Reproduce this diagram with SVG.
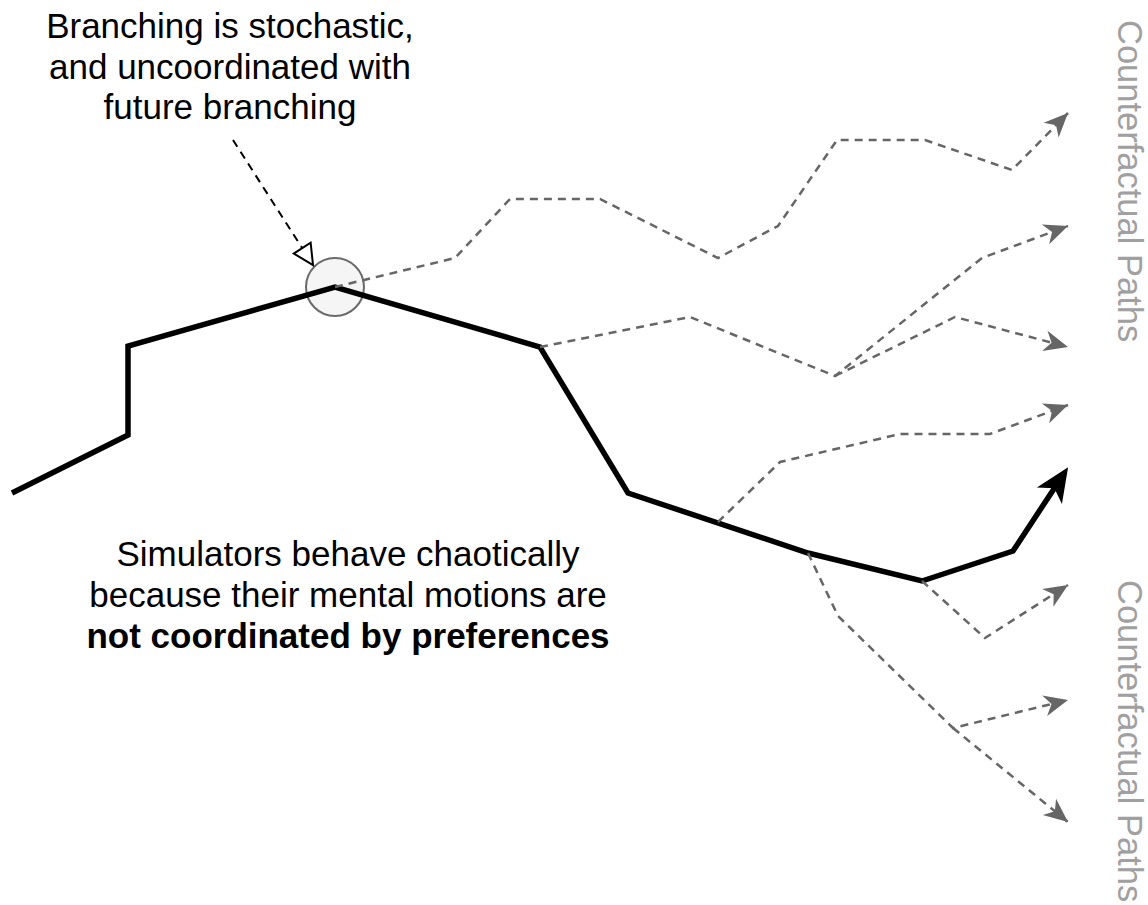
<svg xmlns="http://www.w3.org/2000/svg" width="1148" height="905" viewBox="0 0 1148 905">
  <style>
    .label { font-family: "Liberation Sans", Arial, sans-serif; font-size: 35px; fill: #000; text-anchor: middle; }
    .bold { font-weight: bold; }
    .side { font-family: "Liberation Sans", Arial, sans-serif; font-size: 34.5px; fill: #a0a0a0; }
    .main { fill: none; stroke: #000; stroke-width: 5.5; stroke-linejoin: miter; }
    .alt { fill: none; stroke: #666; stroke-width: 2.5; stroke-dasharray: 8 6; }
    .alt-arrow { marker-end: url(#grayHead); }
    .pointer { fill: none; stroke: #000; stroke-width: 2; stroke-dasharray: 8 6; marker-end: url(#openHead); }
  </style>
  <defs>
    <marker id="grayHead" markerUnits="userSpaceOnUse" viewBox="-27 -13 30 26" markerWidth="30" markerHeight="26" refX="0" refY="0" orient="auto">
      <path d="M0,0 L-24,-10.5 L-17,0 L-24,10.5 Z" fill="#666"/>
    </marker>
    <marker id="blackHead" markerUnits="userSpaceOnUse" viewBox="-14 -17 38 34" markerWidth="38" markerHeight="34" refX="0" refY="0" orient="auto">
      <path d="M22,0 L-12,-15 L-3,0 L-12,15 Z" fill="#000"/>
    </marker>
    <marker id="openHead" markerUnits="userSpaceOnUse" viewBox="-23 -13 26 26" markerWidth="26" markerHeight="26" refX="0" refY="0" orient="auto">
      <path d="M0,0 L-20,-10 L-20,10 Z" fill="#fff" stroke="#000" stroke-width="2" stroke-linejoin="miter"/>
    </marker>
  </defs>

  <!-- branching point -->
  <g id="branch-point">
    <circle cx="335" cy="287" r="29" fill="#f5f5f5" stroke="#6a6a6a" stroke-width="2"/>
  </g>

  <g id="connectors">
    <!-- realised trajectory -->
    <path id="actual-path" class="main" d="M12,493 L128,435 L128,346 L335,287 L540,347 L628,493 L808,553 L922,581 L1013,551 L1056,485.7" marker-end="url(#blackHead)"/>

    <!-- counterfactual branches -->
    <path class="alt alt-arrow" d="M335,287 L455,258 L510,199 L600,199 L718,258 L778,226 L837,140 L925,140 L1012,170 L1068,113"/>
    <path class="alt alt-arrow" d="M540,347 L690,317 L835,376 L982,258 L1068,226"/>
    <path class="alt alt-arrow" d="M835,376 L955,317 L1068,347"/>
    <path class="alt alt-arrow" d="M718,522 L780,462 L900,434 L990,434 L1068,405"/>
    <path class="alt alt-arrow" d="M922,581 L985,638 L1068,585"/>
    <path class="alt alt-arrow" d="M808,553 L838,616 L953,728 L1068,700"/>
    <path class="alt alt-arrow" d="M953,728 L1068,822"/>

    <!-- annotation pointer -->
    <path class="pointer" d="M233,140 L313,265"/>
  </g>

  <g id="note-branching">
    <text class="label" x="230" y="38">Branching is stochastic,</text>
    <text class="label" x="230" y="79">and uncoordinated with</text>
    <text class="label" x="230" y="119">future branching</text>
  </g>

  <g id="note-simulators">
    <text class="label" x="348" y="566">Simulators behave chaotically</text>
    <text class="label" x="348" y="607">because their mental motions are</text>
    <text class="label bold" x="348" y="648">not coordinated by preferences</text>
  </g>

  <g id="label-counterfactual-top">
    <text class="side" transform="translate(1118,20) rotate(90)">Counterfactual Paths</text>
  </g>
  <g id="label-counterfactual-bottom">
    <text class="side" transform="translate(1118,580) rotate(90)">Counterfactual Paths</text>
  </g>
</svg>
